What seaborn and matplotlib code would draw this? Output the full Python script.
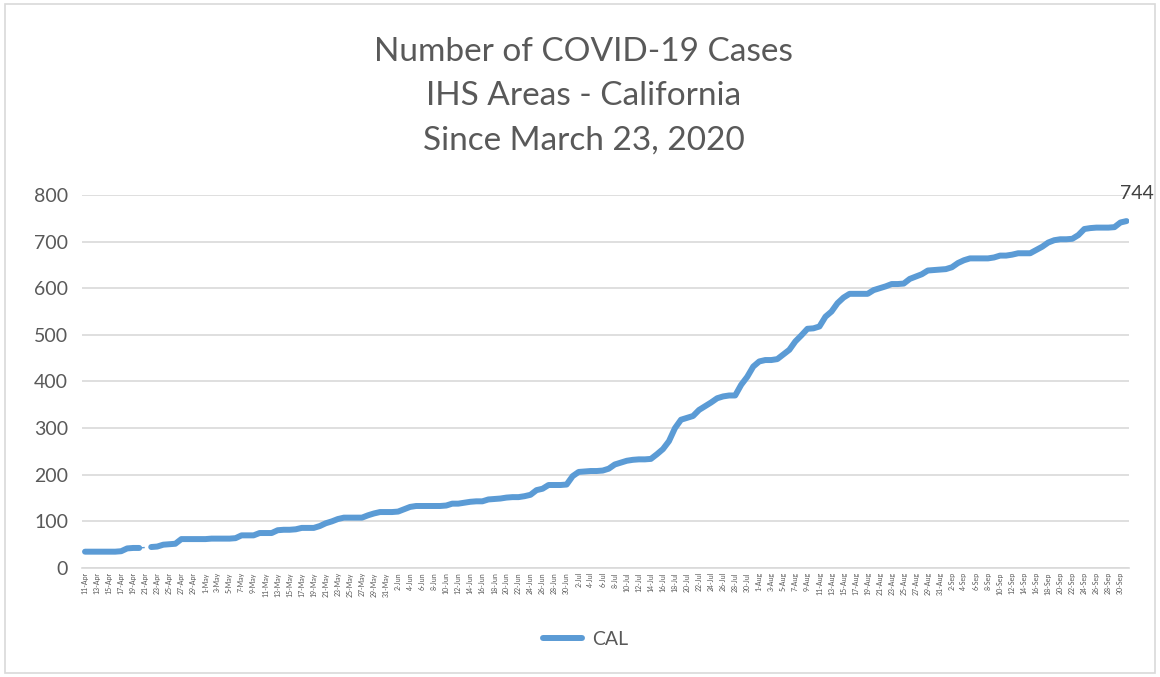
import numpy as np
import pandas as pd
import matplotlib.pyplot as plt
import seaborn as sns
from matplotlib.patches import Rectangle

# daily cumulative cases, 11-Apr .. 1-Oct 2020 (21-Apr missing)
start_date = "2020-04-11"
cases = [35, 35, 35, 35, 35, 35, 36, 42, 43, 43, np.nan, 45, 46, 50, 51, 52, 62,
         62, 62, 62, 62, 63, 63, 63, 63, 64, 70, 70, 70, 75, 75, 75, 81, 82, 82, 83,
         86, 86, 86, 90, 96, 100, 105, 108, 108, 108, 108, 113, 117, 120, 120, 120,
         121, 126, 131, 133, 133, 133, 133, 133, 134, 138, 138, 140, 142, 143, 143,
         147, 148, 149, 151, 152, 152, 154, 157, 167, 170, 178, 178, 178, 179, 197,
         206, 207, 208, 208, 209, 213, 222, 226, 230, 232, 233, 233, 234, 244, 255,
         272, 300, 318, 322, 326, 339, 347, 355, 364, 368, 370, 370, 393, 410, 432,
         443, 446, 446, 448, 458, 468, 486, 499, 513, 514, 518, 539, 550, 568, 580,
         588, 588, 588, 588, 596, 600, 604, 609, 609, 610, 620, 625, 630, 638, 639,
         640, 641, 645, 654, 660, 664, 664, 664, 664, 666, 670, 670, 672, 675, 675,
         675, 682, 689, 698, 703, 705, 705, 706, 714, 727, 729, 730, 730, 730, 731,
         741, 744]
series_name = "CAL"
title = "Number of COVID-19 Cases\nIHS Areas - California\nSince March 23, 2020"

dates = pd.date_range(start_date, periods=len(cases), freq="D")
df = pd.DataFrame({"idx": np.arange(len(cases)), "cases": cases})
df["label"] = [f"{d.day}-{d.strftime('%b')}" for d in dates]

gap = df.index[df["cases"].isna()][0]
part1 = df.iloc[:gap]
part2 = df.iloc[gap + 1:]
bridge = df.iloc[[gap - 1, gap + 1]]

blue = "#5B9BD5"
grey_txt = "#595959"

sns.set_style("white")
plt.rcParams["font.family"] = ["Lato", "DejaVu Sans"]

fig = plt.figure(figsize=(11.6, 6.77), dpi=100)
ax = fig.add_axes([0.0707, 0.161, 0.903, 0.551])

lw = 4.3
sns.lineplot(data=part1, x="idx", y="cases", color=blue, linewidth=lw, ax=ax,
             solid_capstyle="round", solid_joinstyle="round", label=series_name)
sns.lineplot(data=part2, x="idx", y="cases", color=blue, linewidth=lw, ax=ax,
             solid_capstyle="round", solid_joinstyle="round")
sns.lineplot(data=bridge, x="idx", y="cases", color=blue, linewidth=1.0,
             linestyle=(0, (4, 3)), ax=ax)

ax.set_ylim(0, 800)
ax.set_yticks(range(0, 801, 100))
ax.set_xlim(-0.5, len(cases) - 0.5)
ticks = df["idx"][::2]
ax.set_xticks(ticks)
ax.set_xticklabels(df["label"][::2], rotation=90, fontsize=5, color=grey_txt)
ax.tick_params(axis="y", labelsize=14, labelcolor=grey_txt, length=0, pad=10)
ax.tick_params(axis="x", length=0, pad=3)
ax.set_xlabel("")
ax.set_ylabel("")
ax.grid(axis="y", color="#D9D9D9", linewidth=1.2)
ax.set_axisbelow(True)
for s in ["top", "right", "left"]:
    ax.spines[s].set_visible(False)
ax.spines["bottom"].set_color("#D9D9D9")
ax.spines["bottom"].set_linewidth(1.2)

# data label on last point
last = df.iloc[-1]
ax.annotate(f"{int(last['cases'])}", (last["idx"], last["cases"]),
            xytext=(-5, 14), textcoords="offset points", ha="left", va="bottom",
            fontsize=14, color="#404040", annotation_clip=False)

ax.legend(loc="center", bbox_to_anchor=(0.505, 0.055), bbox_transform=fig.transFigure,
          frameon=False, fontsize=14, handlelength=2.0, handletextpad=0.5,
          labelcolor=grey_txt)

fig.text(0.503, 0.946, title, ha="center", va="top", fontsize=24,
         color=grey_txt, linespacing=1.6)

fig.patches.append(Rectangle((0.004, 0.006), 0.992, 0.988, transform=fig.transFigure,
                             fill=False, edgecolor="#D9D9D9", linewidth=1.2))

fig.savefig("out.png", dpi=100)
